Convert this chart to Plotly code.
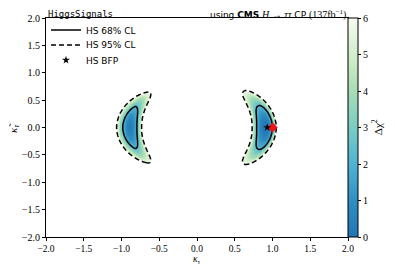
import numpy as np
import plotly.graph_objects as go

# ---- values ----
# crescent parameters (left, right): radius of minimum, inner/outer radial
# extents of the 68% and 95% CL contours, angular extents (deg), minimum value
cres_sign = [-1, 1]
cres_r0 = [0.90, 0.91]
cres_w68_in = [0.11, 0.12]
cres_w68_out = [0.09, 0.09]
cres_w95_in = [0.17, 0.18]
cres_w95_out = [0.17, 0.14]
cres_phi68 = [27.0, 26.0]
cres_phi95 = [47.0, 47.0]
cres_min = [0.25, 0.0]

cl_levels = [2.30, 5.99]
cl_names = ["HS 68% CL", "HS 95% CL"]
cl_dash = ["solid", "5px,3px"]

bfp_k = [0.93]
bfp_kt = [0.0]
sm_k = [1.0]
sm_kt = [0.0]

axis_ticks = [-2.0, -1.5, -1.0, -0.5, 0.0, 0.5, 1.0, 1.5, 2.0]
cbar_ticks = [0, 1, 2, 3, 4, 5, 6]

SERIF = "Liberation Serif"

# ---- build the Δχ² field ----
n = 401
kap = np.linspace(-2, 2, n)
kapt = np.linspace(-2, 2, n)
K, KT = np.meshgrid(kap, kapt)
Z = np.full(K.shape, np.inf)
for s, r0, a_in, a_out, b_in, b_out, p68, p95, zm in zip(
        cres_sign, cres_r0, cres_w68_in, cres_w68_out, cres_w95_in,
        cres_w95_out, cres_phi68, cres_phi95, cres_min):
    X = s * K
    r = np.sqrt(X**2 + KT**2)
    phi = np.degrees(np.arctan2(KT, X))
    u = r - r0
    w68 = np.where(u < 0, a_in, a_out)
    w95 = np.where(u < 0, b_in, b_out)
    pr = np.log(6.0 / 2.3) / np.log(w95 / w68)
    g = 2.3 * (np.abs(u) / w68) ** pr
    pp = np.log(6.0 / 2.3) / np.log(p95 / p68)
    h = 2.3 * (np.abs(phi) / p68) ** pp
    Zc = zm + g + h
    Zc = np.where(X > 0, Zc, np.inf)
    Z = np.minimum(Z, Zc)

Zfill = np.where(Z <= 6.0, Z, np.nan)
Zc_lines = np.where(np.isfinite(Z), np.minimum(Z, 50), 50)

colorscale = [
    [0.0, "rgb(33,118,180)"],
    [0.15, "rgb(45,140,192)"],
    [0.33, "rgb(78,179,211)"],
    [0.5, "rgb(123,204,196)"],
    [0.67, "rgb(168,221,181)"],
    [0.8, "rgb(204,235,197)"],
    [0.9, "rgb(224,243,219)"],
    [1.0, "rgb(247,252,240)"],
]

fig = go.Figure()
fig.add_trace(go.Heatmap(
    x=kap, y=kapt, z=Zfill, zmin=0, zmax=6, colorscale=colorscale,
    showscale=True, hoverinfo="skip",
    colorbar=dict(
        x=1.0, xanchor="left", xpad=0, ypad=0, y=0, yanchor="bottom",
        len=1.0, thickness=10, outlinecolor="black", outlinewidth=1,
        tickvals=cbar_ticks, ticks="outside", ticklen=3, tickcolor="black",
        tickfont=dict(family=SERIF, size=10, color="black"),
    ),
))

legend_ids = ["legend", "legend2", "legend3"]
for lev, name, dash, lid in zip(cl_levels, cl_names, cl_dash, legend_ids):
    fig.add_trace(go.Contour(
        x=kap, y=kapt, z=Zc_lines, showscale=False, hoverinfo="skip",
        contours=dict(coloring="none", start=lev, end=lev, size=1),
        line=dict(color="black", width=1.5, dash=dash),
        showlegend=False,
    ))
    fig.add_trace(go.Scatter(
        x=[None], y=[None], mode="lines", name=name, legend=lid,
        line=dict(color="black", width=1.6, dash=dash),
    ))

fig.add_trace(go.Scatter(
    x=sm_k, y=sm_kt, mode="markers", showlegend=False,
    marker=dict(symbol="diamond", size=8, color="#e8141c"),
))
fig.add_trace(go.Scatter(
    x=bfp_k, y=bfp_kt, mode="markers", name="HS BFP", legend="legend3",
    marker=dict(symbol="star", size=6, color="black"),
))

axis_common = dict(
    range=[-2, 2], tickvals=axis_ticks, tickformat=".1f", automargin=False,
    showgrid=False, zeroline=False, showline=True, linecolor="black",
    linewidth=1, mirror=True, ticks="outside", ticklen=3, tickcolor="black",
    tickfont=dict(family=SERIF, size=10, color="black"),
)

legend_common = dict(x=0.0, xanchor="left", yanchor="middle",
                     bgcolor="rgba(0,0,0,0)", borderwidth=0, itemwidth=30,
                     font=dict(family="DejaVu Sans", size=9, color="black"))

# the page body has an 8px margin; the figure is sized to fit the window
fig.update_layout(
    width=387, height=259,
    margin=dict(l=38, r=47, t=10, b=30, autoexpand=False),
    plot_bgcolor="white", paper_bgcolor="white",
    xaxis=dict(axis_common, tickfont=dict(family=SERIF, size=9.5, color="black")),
    yaxis=axis_common,
    legend=dict(legend_common, y=0.945),
    legend2=dict(legend_common, y=0.877),
    legend3=dict(legend_common, y=0.808),
    annotations=[
        dict(x=0, y=1, xref="paper", yref="paper", xanchor="left",
             yanchor="bottom", showarrow=False, yshift=-3,
             text="HiggsSignals",
             font=dict(family="DejaVu Sans Mono", size=9, color="black")),
        dict(x=1, y=1, xref="paper", yref="paper", xanchor="right",
             yanchor="bottom", showarrow=False, yshift=-5,
             text=("using <b>CMS</b> "
                   "<span style='font-family:Liberation Serif;font-size:10px'><i>H</i> → "
                   "<i>ττ</i></span> CP "
                   "<span style='font-family:Liberation Serif;font-size:10px'>(137fb<sup>−1</sup>)</span>"),
             font=dict(family="DejaVu Sans", size=9, color="black")),
        dict(x=1.095, y=0.5, xref="paper", yref="paper", xanchor="center",
             yanchor="middle", showarrow=False, textangle=-90,
             text="Δχ<sup>2</sup>",
             font=dict(family=SERIF, size=11, color="black")),
        dict(x=0.5, y=-0.137, xref="paper", yref="paper", xanchor="center",
             yanchor="bottom", showarrow=False,
             text="<i>κ</i><sub>τ</sub>",
             font=dict(family=SERIF, size=9.5, color="black")),
        dict(x=-0.108, y=0.5, xref="paper", yref="paper", xanchor="center",
             yanchor="middle", showarrow=False, textangle=-90,
             text="<i>κ̃<sub>τ</sub></i>",
             font=dict(family=SERIF, size=11, color="black")),
    ],
)

fig.write_html("out.html")
